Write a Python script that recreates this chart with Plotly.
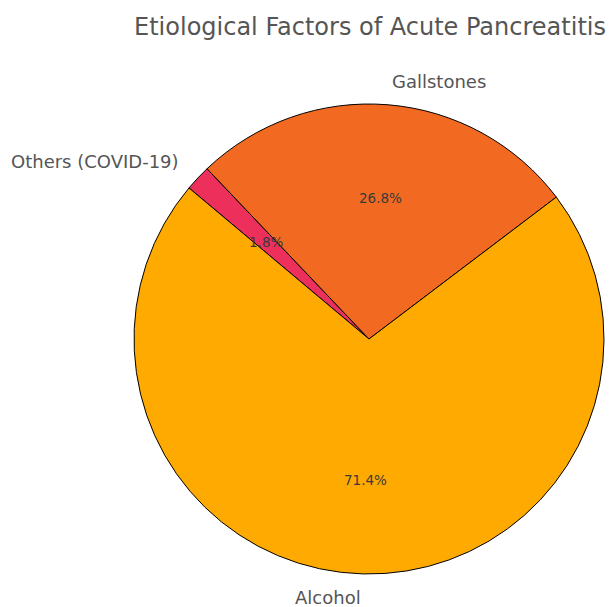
import math
import plotly.graph_objects as go

# Etiology counts
causes = ["Alcohol", "Gallstones", "Others (COVID-19)"]
counts = [40, 15, 1]

slice_colors = ["#FFAA00", "#F26A21", "#EC2F5B"]
start_angle = 140  # degrees, counter-clockwise from 3 o'clock

W, H = 613, 607
cx_px, cy_px, r_px = 369, 339, 235

dom_x = [(cx_px - r_px) / W, (cx_px + r_px) / W]
dom_y = [1 - (cy_px + r_px) / H, 1 - (cy_px - r_px) / H]

fig = go.Figure()
fig.add_trace(go.Pie(
    labels=causes[::-1],
    values=counts[::-1],
    marker=dict(colors=slice_colors[::-1], line=dict(color="black", width=1)),
    sort=False,
    direction="clockwise",
    rotation=90 - start_angle,
    textinfo="none",
    hoverinfo="label+percent",
    showlegend=False,
    domain=dict(x=dom_x, y=dom_y),
))

# Labels outside each wedge and percentages inside, placed along wedge mid-angles
total = sum(counts)
cx = (dom_x[0] + dom_x[1]) / 2
cy = (dom_y[0] + dom_y[1]) / 2
rx = (dom_x[1] - dom_x[0]) / 2
ry = (dom_y[1] - dom_y[0]) / 2
theta = start_angle
annotations = []
for name, v in zip(causes, counts):
    span = 360 * v / total
    mid = math.radians(theta + span / 2)
    theta += span
    c, s = math.cos(mid), math.sin(mid)
    annotations.append(dict(
        x=cx + 1.1 * rx * c, y=cy + 1.1 * ry * s,
        xref="paper", yref="paper", text=name, showarrow=False,
        xanchor="right" if c < 0 else "left", yanchor="middle",
        font=dict(family="DejaVu Sans", size=18, color="#555555"),
    ))
    annotations.append(dict(
        x=cx + 0.6 * rx * c, y=cy + 0.6 * ry * s,
        xref="paper", yref="paper", text=f"{100 * v / total:.1f}%", showarrow=False,
        xanchor="center", yanchor="middle",
        font=dict(family="DejaVu Sans", size=13.5, color="#3a3a3a"),
    ))

fig.update_layout(
    width=W, height=H,
    margin=dict(l=0, r=0, t=0, b=0),
    paper_bgcolor="white",
    plot_bgcolor="white",
    title=dict(
        text="Etiological Factors of Acute Pancreatitis",
        x=370 / W, xref="paper", xanchor="center",
        y=1 - 27 / H, yref="container", yanchor="middle",
        font=dict(family="DejaVu Sans", size=24, color="#555555"),
    ),
    annotations=annotations,
)

fig.write_html("out.html")
